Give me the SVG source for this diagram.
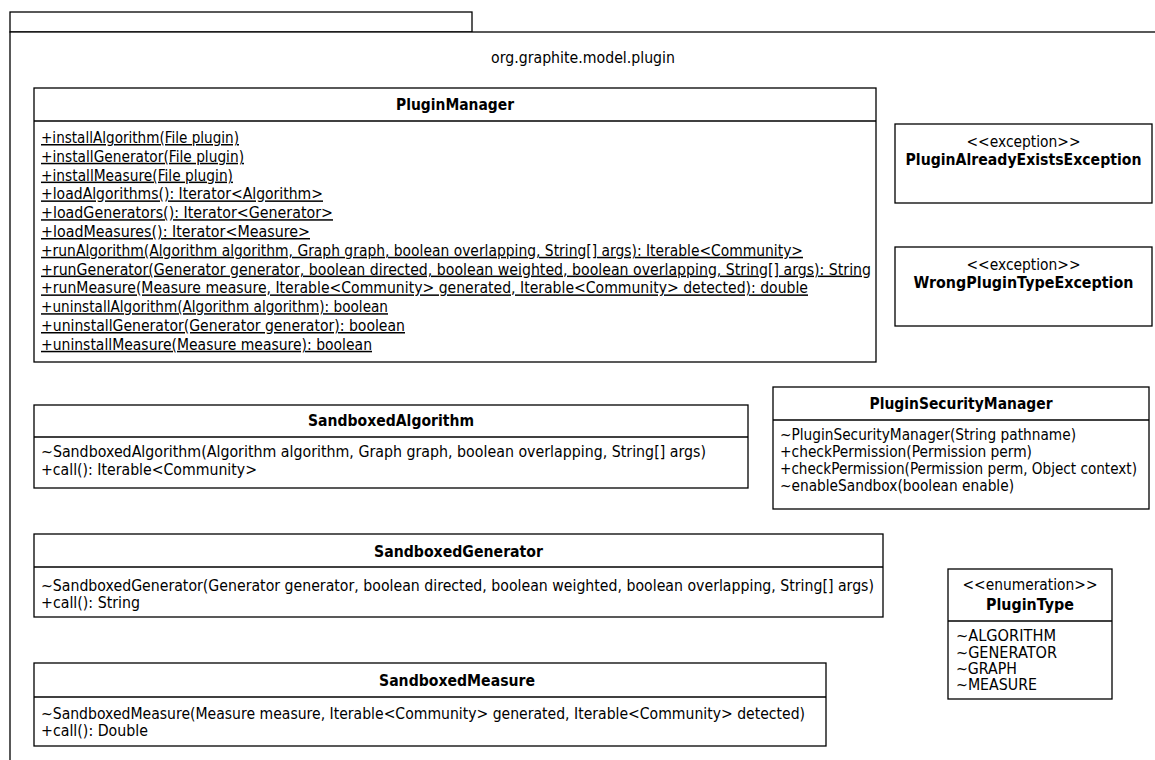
<svg xmlns="http://www.w3.org/2000/svg" width="1155" height="760" viewBox="0 0 1155 760">
  <style>
    .frame { fill: #fff; stroke: #000; stroke-width: 1.3; }
    .box { fill: #fff; stroke: #000; stroke-width: 1.3; }
    .sep { stroke: #000; stroke-width: 1.3; }
    text { font-family: "DejaVu Sans", Verdana, sans-serif; font-size: 15px; fill: #000; }
    .b { font-weight: bold; }
    .u { text-decoration: underline; }
  </style>

  <rect width="1155" height="760" fill="#fff"/>

  <!-- package org.graphite.model.plugin -->
  <g id="package">
    <rect class="frame" x="10" y="12" width="462" height="20"/>
    <rect class="frame" x="10" y="32" width="1200" height="800"/>
    <text x="491" y="63" textLength="184" lengthAdjust="spacingAndGlyphs">org.graphite.model.plugin</text>
  </g>

  <!-- PluginManager -->
  <g id="PluginManager">
    <rect class="box" x="34" y="88" width="842" height="274"/>
    <line class="sep" x1="34" y1="121" x2="876" y2="121"/>
    <text class="b" x="396" y="110" textLength="118" lengthAdjust="spacingAndGlyphs">PluginManager</text>
    <text class="u" x="41" y="143" textLength="198" lengthAdjust="spacingAndGlyphs">+installAlgorithm(File plugin)</text>
    <text class="u" x="41" y="161.8" textLength="203" lengthAdjust="spacingAndGlyphs">+installGenerator(File plugin)</text>
    <text class="u" x="41" y="180.6" textLength="192" lengthAdjust="spacingAndGlyphs">+installMeasure(File plugin)</text>
    <text class="u" x="41" y="199.4" textLength="282" lengthAdjust="spacingAndGlyphs">+loadAlgorithms(): Iterator&lt;Algorithm&gt;</text>
    <text class="u" x="41" y="218.2" textLength="292" lengthAdjust="spacingAndGlyphs">+loadGenerators(): Iterator&lt;Generator&gt;</text>
    <text class="u" x="41" y="237" textLength="269" lengthAdjust="spacingAndGlyphs">+loadMeasures(): Iterator&lt;Measure&gt;</text>
    <text class="u" x="41" y="255.8" textLength="762" lengthAdjust="spacingAndGlyphs">+runAlgorithm(Algorithm algorithm, Graph graph, boolean overlapping, String[] args): Iterable&lt;Community&gt;</text>
    <text class="u" x="41" y="274.6" textLength="830" lengthAdjust="spacingAndGlyphs">+runGenerator(Generator generator, boolean directed, boolean weighted, boolean overlapping, String[] args): String</text>
    <text class="u" x="41" y="293.4" textLength="767" lengthAdjust="spacingAndGlyphs">+runMeasure(Measure measure, Iterable&lt;Community&gt; generated, Iterable&lt;Community&gt; detected): double</text>
    <text class="u" x="41" y="312.2" textLength="347" lengthAdjust="spacingAndGlyphs">+uninstallAlgorithm(Algorithm algorithm): boolean</text>
    <text class="u" x="41" y="331" textLength="364" lengthAdjust="spacingAndGlyphs">+uninstallGenerator(Generator generator): boolean</text>
    <text class="u" x="41" y="349.8" textLength="331" lengthAdjust="spacingAndGlyphs">+uninstallMeasure(Measure measure): boolean</text>
  </g>

  <!-- PluginAlreadyExistsException -->
  <g id="PluginAlreadyExistsException">
    <rect class="box" x="895" y="124" width="257" height="79"/>
    <text x="966.5" y="147" textLength="114" lengthAdjust="spacingAndGlyphs">&lt;&lt;exception&gt;&gt;</text>
    <text class="b" x="905.5" y="165" textLength="236" lengthAdjust="spacingAndGlyphs">PluginAlreadyExistsException</text>
  </g>

  <!-- WrongPluginTypeException -->
  <g id="WrongPluginTypeException">
    <rect class="box" x="895" y="247" width="257" height="79"/>
    <text x="966.5" y="270" textLength="114" lengthAdjust="spacingAndGlyphs">&lt;&lt;exception&gt;&gt;</text>
    <text class="b" x="913.5" y="288" textLength="220" lengthAdjust="spacingAndGlyphs">WrongPluginTypeException</text>
  </g>

  <!-- SandboxedAlgorithm -->
  <g id="SandboxedAlgorithm">
    <rect class="box" x="34" y="405" width="714" height="83"/>
    <line class="sep" x1="34" y1="437" x2="748" y2="437"/>
    <text class="b" x="308" y="426" textLength="166" lengthAdjust="spacingAndGlyphs">SandboxedAlgorithm</text>
    <text x="41" y="457" textLength="665" lengthAdjust="spacingAndGlyphs">~SandboxedAlgorithm(Algorithm algorithm, Graph graph, boolean overlapping, String[] args)</text>
    <text x="41" y="475" textLength="216" lengthAdjust="spacingAndGlyphs">+call(): Iterable&lt;Community&gt;</text>
  </g>

  <!-- PluginSecurityManager -->
  <g id="PluginSecurityManager">
    <rect class="box" x="773" y="387" width="376" height="122"/>
    <line class="sep" x1="773" y1="420" x2="1149" y2="420"/>
    <text class="b" x="869.5" y="409" textLength="183" lengthAdjust="spacingAndGlyphs">PluginSecurityManager</text>
    <text x="780" y="440" textLength="296" lengthAdjust="spacingAndGlyphs">~PluginSecurityManager(String pathname)</text>
    <text x="780" y="457" textLength="252" lengthAdjust="spacingAndGlyphs">+checkPermission(Permission perm)</text>
    <text x="780" y="474" textLength="357" lengthAdjust="spacingAndGlyphs">+checkPermission(Permission perm, Object context)</text>
    <text x="780" y="491" textLength="234" lengthAdjust="spacingAndGlyphs">~enableSandbox(boolean enable)</text>
  </g>

  <!-- SandboxedGenerator -->
  <g id="SandboxedGenerator">
    <rect class="box" x="34" y="534" width="849" height="83"/>
    <line class="sep" x1="34" y1="567" x2="883" y2="567"/>
    <text class="b" x="374" y="557" textLength="169" lengthAdjust="spacingAndGlyphs">SandboxedGenerator</text>
    <text x="41" y="591" textLength="833" lengthAdjust="spacingAndGlyphs">~SandboxedGenerator(Generator generator, boolean directed, boolean weighted, boolean overlapping, String[] args)</text>
    <text x="41" y="608" textLength="99" lengthAdjust="spacingAndGlyphs">+call(): String</text>
  </g>

  <!-- PluginType -->
  <g id="PluginType">
    <rect class="box" x="948" y="569" width="164" height="130"/>
    <line class="sep" x1="948" y1="621" x2="1112" y2="621"/>
    <text x="962.5" y="590" textLength="135" lengthAdjust="spacingAndGlyphs">&lt;&lt;enumeration&gt;&gt;</text>
    <text class="b" x="986" y="610" textLength="88" lengthAdjust="spacingAndGlyphs">PluginType</text>
    <text x="956" y="641" textLength="100" lengthAdjust="spacingAndGlyphs">~ALGORITHM</text>
    <text x="956" y="658" textLength="101" lengthAdjust="spacingAndGlyphs">~GENERATOR</text>
    <text x="956" y="674" textLength="61" lengthAdjust="spacingAndGlyphs">~GRAPH</text>
    <text x="956" y="690" textLength="81" lengthAdjust="spacingAndGlyphs">~MEASURE</text>
  </g>

  <!-- SandboxedMeasure -->
  <g id="SandboxedMeasure">
    <rect class="box" x="34" y="663" width="792" height="83"/>
    <line class="sep" x1="34" y1="697" x2="826" y2="697"/>
    <text class="b" x="379" y="686" textLength="156" lengthAdjust="spacingAndGlyphs">SandboxedMeasure</text>
    <text x="41" y="719" textLength="764" lengthAdjust="spacingAndGlyphs">~SandboxedMeasure(Measure measure, Iterable&lt;Community&gt; generated, Iterable&lt;Community&gt; detected)</text>
    <text x="41" y="736" textLength="107" lengthAdjust="spacingAndGlyphs">+call(): Double</text>
  </g>
</svg>
